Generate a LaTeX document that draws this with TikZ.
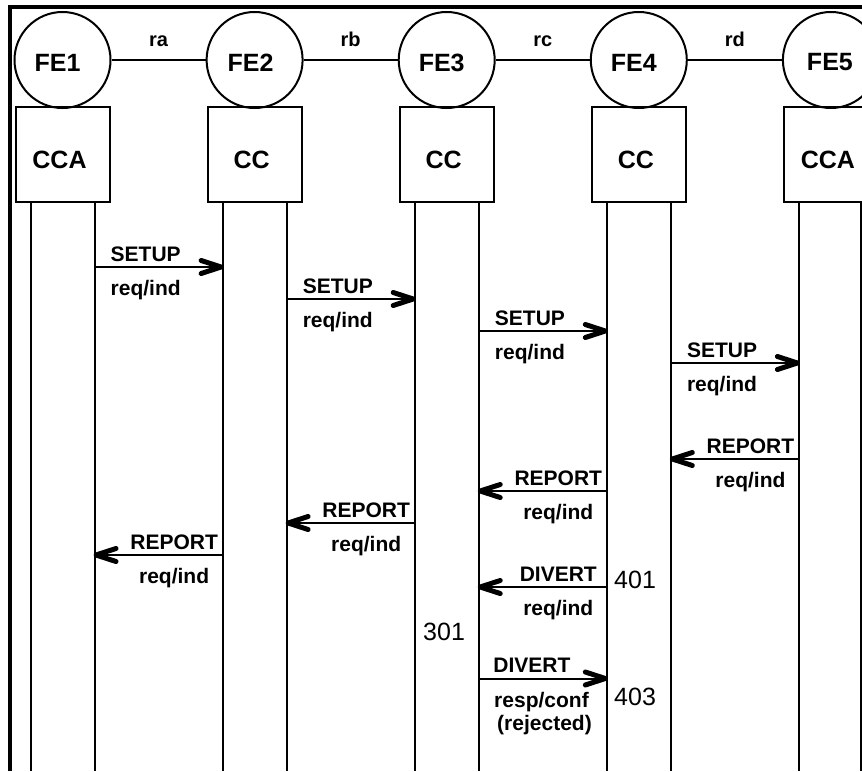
\documentclass[tikz,border=0pt]{standalone}
\usepackage{fontspec}
\setmainfont{Liberation Sans}
\usetikzlibrary{calc}
% rightward message: from, to, y, top text, bottom text, name
\newcommand\msgR[6]{%
  \coordinate (#6s) at (#1 |- 0,#3);
  \coordinate (#6e) at ([xshift=-1.5pt]#2 |- 0,#3);
  \draw[msg] (#6s) -- (#6e);
  \draw[head] ($(#6e)+(-20,-6.5)$) -- (#6e) -- ($(#6e)+(-20,6.5)$);
  \node[lbl,anchor=base west] (#6t) at ([xshift=16pt]#1 |- 0,#3-5.5) {#4};
  \node[lbl,anchor=base west] (#6b) at ([xshift=16pt]#1 |- 0,#3+28.5) {#5};
}
% leftward message
\newcommand\msgL[6]{%
  \coordinate (#6s) at (#1 |- 0,#3);
  \coordinate (#6e) at ([xshift=1.5pt]#2 |- 0,#3);
  \draw[msg] (#6s) -- (#6e);
  \draw[head] ($(#6e)+(20,-6.5)$) -- (#6e) -- ($(#6e)+(20,6.5)$);
  \node[lbl,anchor=base] (#6t) at ([xshift=-48.5pt]#1 |- 0,#3-5.5) {#4};
  \node[lbl,anchor=base] (#6b) at ([xshift=-48.5pt]#1 |- 0,#3+28.5) {#5};
}
\begin{document}
\begin{tikzpicture}[x=1pt,y=-1pt,
  fe/.style={draw,circle,line width=2pt,minimum size=96pt,inner sep=0pt},
  blk/.style={draw,rectangle,line width=2pt,minimum width=94pt,minimum height=95pt,inner sep=0pt},
  big/.style={font=\fontsize{25}{30}\selectfont\bfseries,inner sep=0pt},
  lbl/.style={font=\fontsize{21}{25}\selectfont\bfseries,inner sep=0pt},
  rlbl/.style={font=\fontsize{20}{24}\selectfont\bfseries,inner sep=0pt,anchor=base,yshift=14pt},
  num/.style={font=\fontsize{25}{30}\selectfont,inner sep=0pt,anchor=base west},
  life/.style={line width=2pt},
  link/.style={line width=2pt},
  msg/.style={line width=2pt},
  head/.style={line width=5pt,line cap=round,line join=round},
]
\useasboundingbox (0,0) rectangle (862,771);
\clip (0,0) rectangle (862,771);

\foreach \i/\x/\t/\dx/\rx in {1/62.5/CCA/-5/32,2/254.6/CC/-4/32,3/446.7/CC/-5/32,4/638.8/CC/-5/32,5/830.9/CCA/-1/30.4}{
  \node[fe] (fe\i) at (\x,60) {};
  \node[big] (fet\i) at ([xshift=\dx pt,yshift=-2.5pt]fe\i.center) {FE\i};
  \node[blk] (box\i) at (\x,154.5) {};
  \node[big] (boxt\i) at ([xshift=-3pt,yshift=-5.5pt]box\i.center) {\t};
  \coordinate (Ll\i) at (\x-32,771);
  \coordinate (Lr\i) at (\x+\rx,771);
  \draw[life] (Ll\i |- box\i.south) -- (Ll\i);
  \draw[life] (Lr\i |- box\i.south) -- (Lr\i);
}

\draw[link] (fe1) -- node[rlbl] (ra) {ra} (fe2);
\draw[link] (fe2) -- node[rlbl] (rb) {rb} (fe3);
\draw[link] (fe3) -- node[rlbl] (rc) {rc} (fe4);
\draw[link] (fe4) -- node[rlbl] (rd) {rd} (fe5);

\msgR{Lr1}{Ll2}{267}{SETUP}{req/ind}{s1}
\msgR{Lr2}{Ll3}{299}{SETUP}{req/ind}{s2}
\msgR{Lr3}{Ll4}{331}{SETUP}{req/ind}{s3}
\msgR{Lr4}{Ll5}{363}{SETUP}{req/ind}{s4}
\msgL{Ll5}{Lr4}{459}{REPORT}{req/ind}{r1}
\msgL{Ll4}{Lr3}{491}{REPORT}{req/ind}{r2}
\msgL{Ll3}{Lr2}{523}{REPORT}{req/ind}{r3}
\msgL{Ll2}{Lr1}{555}{REPORT}{req/ind}{r4}
\msgL{Ll4}{Lr3}{587}{DIVERT}{req/ind}{d1}

\coordinate (d2s) at (Lr3 |- 0,678.5);
\coordinate (d2e) at ([xshift=-1.5pt]Ll4 |- 0,678.5);
\draw[msg] (d2s) -- (d2e);
\draw[head] ($(d2e)+(-20,-6.5)$) -- (d2e) -- ($(d2e)+(-20,6.5)$);
\node[lbl,anchor=base west] (d2t) at ([xshift=14.5pt]Lr3 |- 0,672) {DIVERT};
\node[lbl,anchor=base] (d2b) at (541.5,707.5) {resp/conf};
\node[lbl,anchor=base] (d2c) at (544.5,730.5) {(rejected)};

\node[num] (n401) at (614,588) {401};
\node[num] (n403) at (614,705) {403};
\node[num] (n301) at (423,640) {301};

\draw[line width=4pt] (10,771) -- (10,6.5) -- (866,6.5);
\end{tikzpicture}
\end{document}
